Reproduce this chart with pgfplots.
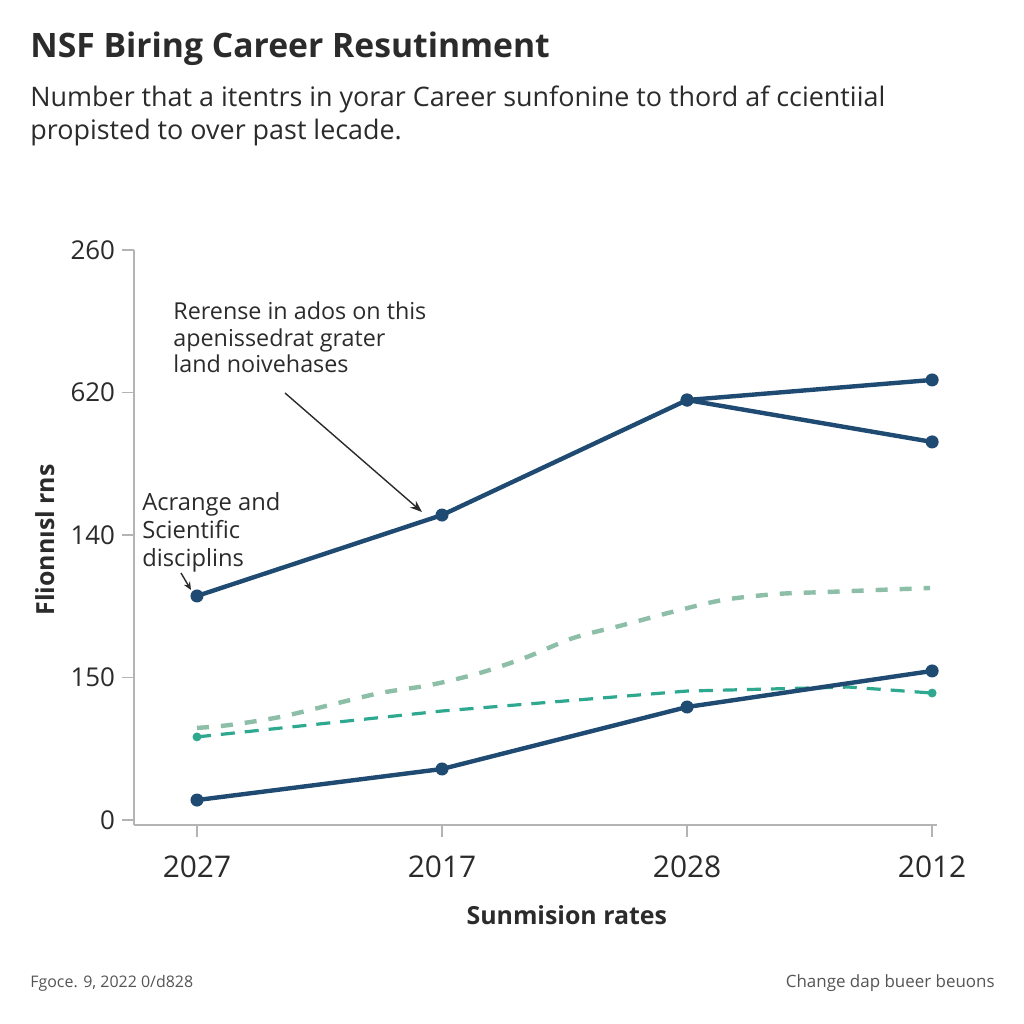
\documentclass[border=0pt]{standalone}
\usepackage{fontspec}
\setmainfont{Open Sans}
\usepackage{pgfplots}
\pgfplotsset{compat=1.18}
\usetikzlibrary{arrows.meta}
\definecolor{navy}{HTML}{1F4A72}
\definecolor{wavy}{HTML}{8DBFA8}
\definecolor{tealc}{HTML}{2EA88E}
\definecolor{axisgray}{HTML}{B4B4B4}
\definecolor{txt}{HTML}{2B2B2B}
\definecolor{foot}{HTML}{555555}
\begin{document}
\begin{tikzpicture}[x=0.5bp,y=0.5bp]
\path[fill=white,use as bounding box] (0,0) rectangle (1024,1024);
\node[anchor=base west, inner sep=0, text=txt, font=\fontsize{16.9}{20}\selectfont\bfseries] at (30,966) {NSF Biring Career Resutinment};
\node[anchor=base west, inner sep=0, text=txt, font=\fontsize{13.5}{16}\selectfont] at (30,917) {Number that a itentrs in yorar Career sunfonine to thord af ccientiial};
\node[anchor=base west, inner sep=0, text=txt, font=\fontsize{13.5}{16}\selectfont] at (30,884) {propisted to over past lecade.};
\begin{axis}[
  at={(67bp,99.5bp)}, anchor=south west,
  scale only axis, width=401.5bp, height=287.5bp,
  xmin=-0.257, xmax=3.02, ymin=-0.035, ymax=4,
  axis x line=bottom, axis y line=left,
  axis line style={draw=axisgray, line width=0.7bp, -},
  xtick={0,1,2,3}, xticklabels={2027,2017,2028,2012},
  ytick={0,1,2,3,4}, yticklabels={0,150,140,620,260},
  tick align=outside, major tick length=6bp,
  tick style={draw=axisgray, line width=0.7bp},
  xticklabel style={font=\fontsize{15}{18}\selectfont, text=txt, yshift=-6bp},
  yticklabel style={font=\fontsize{13}{15}\selectfont, text=txt},
  xlabel={Sunmision rates},
  xlabel style={at={(axis description cs:0.539,-0.157)}, anchor=center, font=\fontsize{12.5}{15}\selectfont\bfseries, text=txt},
  ylabel={Flionnısl rns},
  ylabel style={at={(axis description cs:-0.111,0.496)}, anchor=center, font=\fontsize{12.5}{15}\selectfont\bfseries, text=txt},
  clip=false,
]
\addplot[wavy, line width=2.2bp, dash pattern=on 6bp off 6bp, smooth] coordinates {
 (0,0.646)(0.135,0.667)(0.339,0.723)(0.543,0.807)(0.747,0.891)(0.951,0.947)(1.155,1.032)(1.347,1.144)(1.535,1.277)(1.739,1.368)(1.939,1.460)(2.147,1.544)(2.367,1.586)(2.571,1.600)(2.776,1.614)(2.992,1.628)};
\addplot[tealc, line width=1.6bp, dash pattern=on 7bp off 5bp] coordinates {(0,0.583)(1,0.765)(2,0.905)(2.66,0.933)(3,0.891)};
\addplot[tealc, only marks, mark=*, mark size=2bp] coordinates {(0,0.583)(3,0.891)};
\addplot[navy, line width=2.2bp, mark=*, mark size=3bp, mark options={fill=navy, draw=navy, line width=0.5bp}] coordinates {(0,1.572)(1,2.14)(2,2.947)(3,3.088)};
\addplot[navy, line width=2.2bp, mark=*, mark size=3bp, mark options={fill=navy, draw=navy, line width=0.5bp}] coordinates {(2,2.947)(3,2.653)};
\addplot[navy, line width=2.2bp, mark=*, mark size=3bp, mark options={fill=navy, draw=navy, line width=0.5bp}] coordinates {(0,0.14)(1,0.358)(2,0.793)(3,1.046)};
\end{axis}
\node[anchor=north west, inner sep=0, align=left, text=txt, font=\fontsize{11.7}{13.5}\selectfont] at (173,723) {Rerense in ados on this\\apenissedrat grater\\land noivehases};
\node[anchor=north west, inner sep=0, align=left, text=txt, font=\fontsize{11.9}{14}\selectfont] at (142,532) {Acrange and\\Scientific\\disciplins};
\draw[-{Stealth[length=6bp,width=4.5bp]}, line width=0.7bp, draw=txt] (285,631) -- (422,512);
\draw[-{Stealth[length=4bp,width=3.5bp]}, line width=0.7bp, draw=txt] (181,451) -- (191,434);
\node[anchor=base west, inner sep=0, text=foot, font=\fontsize{8}{10}\selectfont] at (30,36) {Fgoce. 9, 2022 0/d828};
\node[anchor=base east, inner sep=0, text=foot, font=\fontsize{8.5}{10}\selectfont] at (995,36) {Change dap bueer beuons};
\end{tikzpicture}
\end{document}
